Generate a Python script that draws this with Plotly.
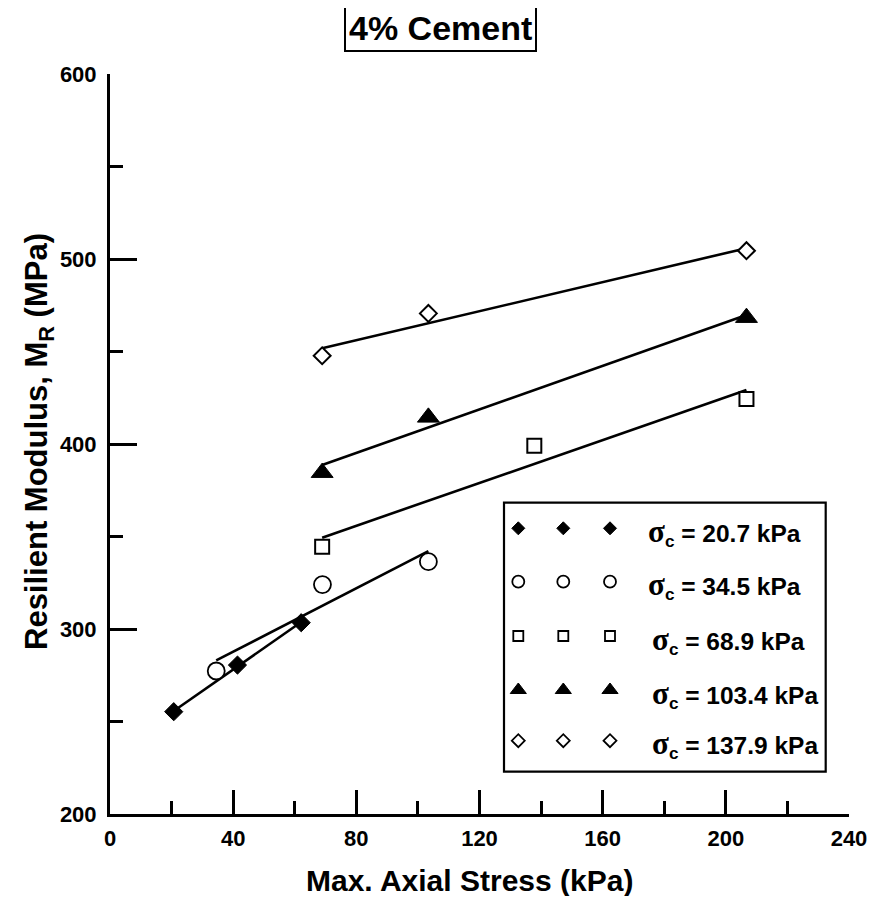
import numpy as np
import plotly.graph_objects as go

# ---------------- data ----------------
x_tick_vals = [0, 40, 80, 120, 160, 200, 240]
y_tick_vals = [200, 300, 400, 500, 600]

confining_labels = ["20.7", "34.5", "68.9", "103.4", "137.9"]

x_s1 = [20.7, 41.4, 62.1]
y_s1 = [255.3, 280.5, 303.4]
x_s2 = [34.5, 69.0, 103.4]
y_s2 = [277.3, 324.0, 336.4]
x_s3 = [68.9, 137.8, 206.7]
y_s3 = [344.5, 399.0, 424.3]
x_s4 = [68.9, 103.4, 206.7]
y_s4 = [384.5, 414.4, 468.3]
x_s5 = [68.9, 103.4, 206.7]
y_s5 = [447.7, 470.6, 504.5]

xs = [x_s1, x_s2, x_s3, x_s4, x_s5]
ys = [y_s1, y_s2, y_s3, y_s4, y_s5]

# ---------------- styles ----------------
styles = [
    dict(symbol="diamond", size=14, fill="black", lw=1, lsize=10),
    dict(symbol="circle", size=17, fill="white", lw=1.8, lsize=12),
    dict(symbol="square", size=14, fill="white", lw=2, lsize=10),
    dict(symbol="triangle-up", size=19, fill="black", lw=1, lsize=14),
    dict(symbol="diamond", size=13, fill="white", lw=2, lsize=10),
]

FONT = "Liberation Sans, Arial, sans-serif"

fig = go.Figure()

# regression lines (least squares from the data)
for x, y in zip(xs, ys):
    xa = np.array(x)
    ya = np.array(y)
    k, b = np.polyfit(xa, ya, 1)
    xl = np.array([xa.min(), xa.max()])
    fig.add_trace(go.Scatter(x=xl, y=k * xl + b, mode="lines",
                             line=dict(color="black", width=2.6),
                             showlegend=False, hoverinfo="skip"))

# markers
for x, y, st in zip(xs, ys, styles):
    fig.add_trace(go.Scatter(x=x, y=y, mode="markers",
                             marker=dict(symbol=st["symbol"], size=st["size"],
                                         color=st["fill"],
                                         line=dict(color="black", width=st["lw"])),
                             showlegend=False))

# ---------------- layout geometry (page pixels) ----------------
OFF = 8  # page body margin
PL, PR, PT, PB = 110, 849, 74, 814
W, H = PR - PL, PB - PT
FIG_W, FIG_H = 859, 888


def px_x(v):
    return (v - PL) / W


def px_y(v):
    return (PB - v) / H


leg_cols = [518.3, 563.3, 610.0]
leg_rows = [528.3, 581.7, 636.0, 690.0, 740.7]
text_left = [646, 646, 650, 650, 650]

for i, (lab, st) in enumerate(zip(confining_labels, styles)):
    fig.add_trace(go.Scatter(
        x=[px_x(c) for c in leg_cols], y=[px_y(leg_rows[i])] * 3,
        xaxis="x2", yaxis="y2", mode="markers",
        marker=dict(symbol=st["symbol"], size=st["lsize"], color=st["fill"],
                    line=dict(color="black", width=min(st["lw"], 1.8))),
        showlegend=False, hoverinfo="skip"))
    fig.add_annotation(
        xref="paper", yref="paper", x=px_x(text_left[i]), y=px_y(leg_rows[i] + 4),
        xanchor="left", yanchor="middle", showarrow=False,
        text=("<span style='font-family:Liberation Serif;font-size:31px'>σ</span>"
              "<sub>c</sub> = " + lab + " kPa"),
        font=dict(family=FONT, size=24.5, color="black", weight="bold"))

fig.add_shape(type="rect", xref="paper", yref="paper",
              x0=px_x(504), x1=px_x(825.7), y0=px_y(771.7), y1=px_y(502.7),
              line=dict(color="black", width=2.2), layer="below")

# title box
fig.add_annotation(xref="paper", yref="paper", x=px_x(440.5), y=px_y(27.5),
                   xanchor="center", yanchor="middle", showarrow=False,
                   text="4% Cement",
                   font=dict(family=FONT, size=34, color="black", weight="bold"),
                   bordercolor="black", borderwidth=2, borderpad=3, bgcolor="white")

# axis titles
fig.add_annotation(xref="paper", yref="paper", x=px_x(469), y=px_y(880),
                   xanchor="center", yanchor="middle", showarrow=False,
                   text="Max. Axial Stress (kPa)",
                   font=dict(family=FONT, size=30, color="black", weight="bold"))
fig.add_annotation(xref="paper", yref="paper", x=px_x(39), y=px_y(442),
                   xanchor="center", yanchor="middle", showarrow=False, textangle=-90,
                   text="Resilient Modulus, M<sub>R</sub> (MPa)",
                   font=dict(family=FONT, size=31, color="black", weight="bold"))

fig.update_layout(
    width=FIG_W, height=FIG_H,
    margin=dict(l=PL - OFF, r=FIG_W - (PR - OFF), t=PT - OFF, b=FIG_H - (PB - OFF),
                autoexpand=False),
    paper_bgcolor="white", plot_bgcolor="white",
    showlegend=False,
    xaxis=dict(range=[0, 240], tickvals=x_tick_vals, ticks="inside", ticklen=24,
               tickwidth=2.5, tickcolor="black", showline=True, linewidth=3,
               linecolor="black", showgrid=False, zeroline=False, automargin=False,
               tickfont=dict(family=FONT, size=22, color="black", weight="bold"),
               ticklabelstandoff=3, ticklabeloverflow="allow",
               minor=dict(dtick=20, tick0=0, ticks="inside", ticklen=13, tickwidth=2.5,
                          tickcolor="black", showgrid=False)),
    yaxis=dict(range=[200, 600], tickvals=y_tick_vals, ticks="inside", ticklen=27,
               tickwidth=2.5, tickcolor="black", showline=True, linewidth=3,
               linecolor="black", showgrid=False, zeroline=False, automargin=False,
               tickfont=dict(family=FONT, size=22, color="black", weight="bold"),
               ticklabelstandoff=6, ticklabeloverflow="allow",
               minor=dict(dtick=50, tick0=200, ticks="inside", ticklen=13, tickwidth=2.5,
                          tickcolor="black", showgrid=False)),
    xaxis2=dict(overlaying="x", range=[0, 1], visible=False),
    yaxis2=dict(overlaying="y", range=[0, 1], visible=False),
)

fig.write_html("out.html")
